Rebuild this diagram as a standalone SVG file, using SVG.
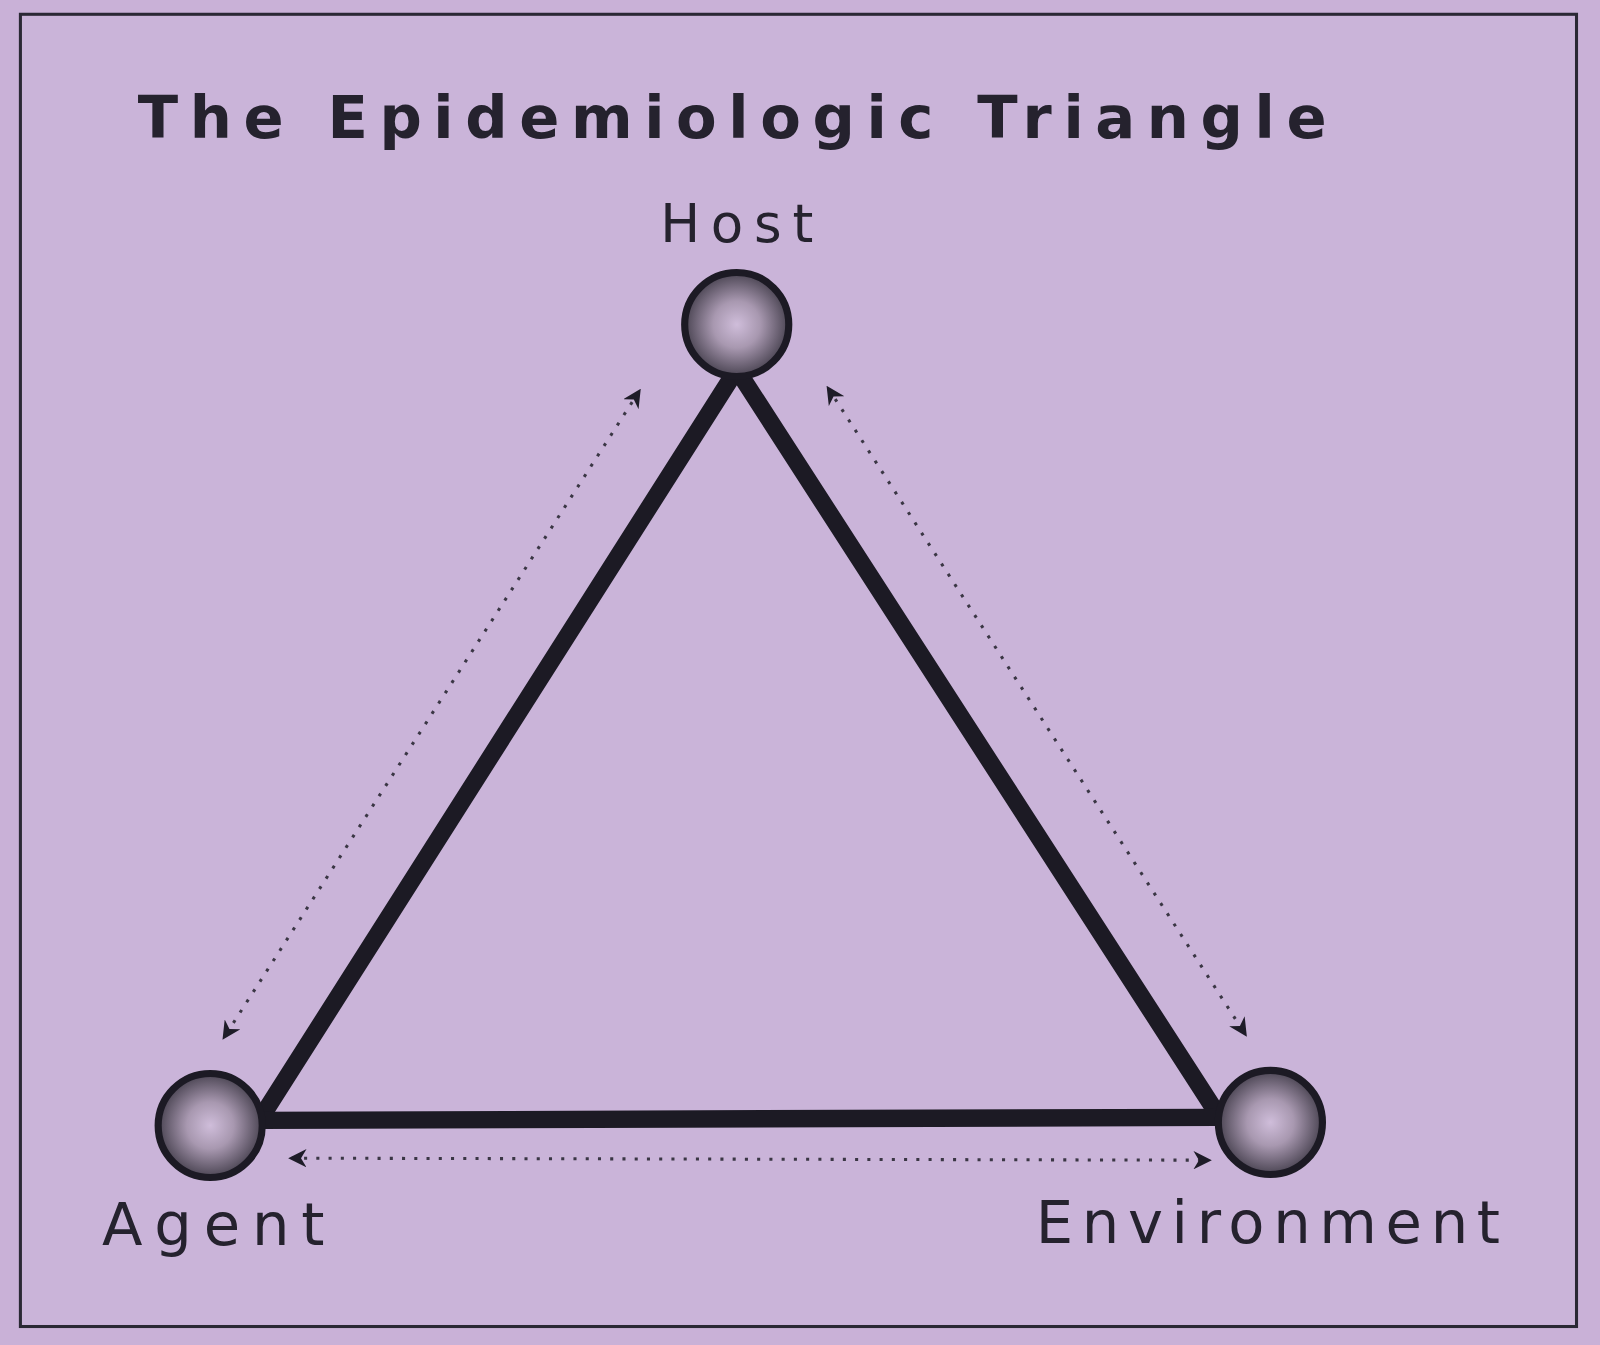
<svg xmlns="http://www.w3.org/2000/svg" width="1600" height="1345" viewBox="0 0 1600 1345">
<defs>
<radialGradient id="ball" cx="50%" cy="50%" r="50%">
<stop offset="0" stop-color="#cfbdda"/>
<stop offset="0.45" stop-color="#a898b0"/>
<stop offset="1" stop-color="#4a4452"/>
</radialGradient>
<marker id="ah" viewBox="0 0 10 10" refX="8" refY="5" markerWidth="6" markerHeight="6" orient="auto-start-reverse" markerUnits="strokeWidth">
<path d="M0,0 L10,5 L0,10 L3,5 Z" fill="#1e1c28"/>
</marker>
</defs>
<style>
.lbl{font-family:"DejaVu Sans","Liberation Sans",sans-serif;fill:#25222e}
.title{font-weight:bold}
.edge{stroke:#1c1a24;stroke-width:17;stroke-linecap:round;fill:none}
.dot{stroke:#3a3644;stroke-width:3;stroke-dasharray:3 9;fill:none}
.node{fill:url(#ball);stroke:#1c1a24;stroke-width:7}
</style>
<rect x="0" y="0" width="1600" height="1345" fill="#c9b1d7"/>
<g transform="scale(1.0204)">
<rect x="20" y="14" width="1525" height="1286" fill="#cab4d9" stroke="#2a2834" stroke-width="3"/>
<text class="lbl title" x="135" y="135" font-size="58" textLength="1165" lengthAdjust="spacing">The Epidemiologic Triangle</text>
<g id="connectors">
<line class="edge" x1="722" y1="362" x2="256" y2="1095"/>
<line class="edge" x1="722" y1="362" x2="1192" y2="1090"/>
<line class="edge" x1="256" y1="1098" x2="1192" y2="1095"/>
<line class="dot" x1="626" y1="384" x2="220" y2="1016" marker-start="url(#ah)" marker-end="url(#ah)"/>
<line class="dot" x1="812" y1="381" x2="1220" y2="1013" marker-start="url(#ah)" marker-end="url(#ah)"/>
<line class="dot" x1="286" y1="1135" x2="1184" y2="1137" marker-start="url(#ah)" marker-end="url(#ah)"/>
</g>
<g id="host">
<circle class="node" cx="722" cy="318" r="51"/>
<text class="lbl" x="722" y="237" font-size="52" text-anchor="middle" textLength="150" lengthAdjust="spacing">Host</text>
</g>
<g id="agent">
<circle class="node" cx="206" cy="1103" r="51"/>
<text class="lbl" x="100" y="1220" font-size="58" textLength="218" lengthAdjust="spacing">Agent</text>
</g>
<g id="environment">
<circle class="node" cx="1245" cy="1100" r="51"/>
<text class="lbl" x="1015" y="1218" font-size="58" textLength="455" lengthAdjust="spacing">Environment</text>
</g>
</g>
</svg>
